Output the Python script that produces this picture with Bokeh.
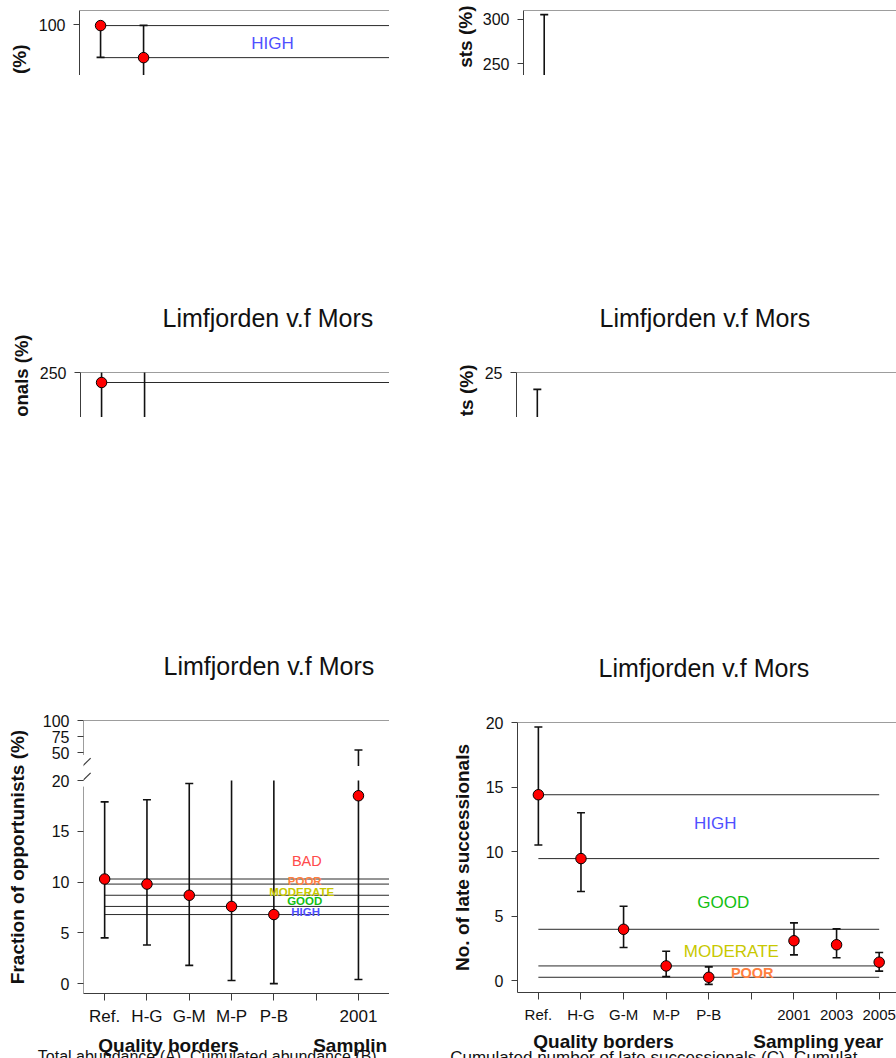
import math
from bokeh.plotting import figure
from bokeh.models import Range1d, FixedTicker, Label, Span, Arrow, Title
from bokeh.layouts import row, column, Spacer
from bokeh.core.properties import value
from bokeh.embed import file_html
from bokeh.resources import INLINE

FONT = "Liberation Sans"
TITLE = "Limfjorden v.f Mors"
CATEGORIES = ["Ref.", "H-G", "G-M", "M-P", "P-B", "", "2001", "2003", "2005"]
CAT_POS = list(range(len(CATEGORIES)))

# ---- panel A (top-left, only top strip visible)
a_x = [0, 1]
a_mean = [99.6, 87.5]
a_lo = [87.6, 72.0]
a_hi = [99.6, 99.7]
a_yticks = [80, 100]

# ---- panel B (top-right, only top strip visible)
b_x = [0]
b_mean = [190.0]
b_lo = [80.0]
b_hi = [305.5]
b_yticks = [250, 300]

# ---- panel C (middle-left, only top strip visible)
c_x = [0, 1]
c_mean = [240.0, 160.0]
c_lo = [180.0, 100.0]
c_hi = [300.0, 280.0]
c_yticks = [200, 250]

# ---- panel D (middle-right, only top strip visible)
d_x = [0]
d_mean = [14.0]
d_lo = [6.0]
d_hi = [23.2]
d_yticks = [0, 5, 10, 15, 20, 25]

# ---- panel E: fraction of opportunists (%)
e_x = [0, 1, 2, 3, 4, 6]
e_mean = [10.3, 9.8, 8.7, 7.6, 6.8, 18.5]
e_lo = [4.5, 3.8, 1.8, 0.3, 0.0, 0.4]
e_hi = [17.9, 18.1, 19.7, 24.0, 25.0, 54.0]
e_yticks_low = [0, 5, 10, 15, 20]
e_yticks_up = [50, 75, 100]
E_BREAK_LOW = 20
E_BREAK_HIGH = 29

# ---- panel F: no. of late successionals
f_x = [0, 1, 2, 3, 4, 6, 7, 8]
f_mean = [14.4, 9.45, 3.97, 1.13, 0.25, 3.08, 2.77, 1.42]
f_lo = [10.5, 6.9, 2.56, 0.3, -0.3, 1.99, 1.76, 0.73]
f_hi = [19.65, 13.0, 5.76, 2.27, 1.06, 4.47, 4.0, 2.17]
f_yticks = [0, 5, 10, 15, 20]

CAPTION_LEFT = "Total abundance (A), Cumulated abundance (B),"
CAPTION_RIGHT = "Cumulated number of late successionals (C). Cumulat"

QCOL = {"HIGH": "#5050ff", "GOOD": "#12c012", "MODERATE": "#c8c800",
        "POOR": "#ff8040", "BAD": "#ff4a4a"}

AX = "#3c3c3c"
INK = "#111111"


def no_align(p):
    try:
        p.frame_align = False
    except Exception:
        pass


def panel(width, height, ppu, left, top, y_range, bottom=0, right=0, x_axis=False, x0=-0.49):
    frame_w = width - left - right
    p = figure(width=width, height=height, output_backend="svg", toolbar_location=None,
               x_range=Range1d(x0, x0 + frame_w / ppu), y_range=Range1d(*y_range),
               x_axis_location="below" if x_axis else None,
               min_border_left=left, min_border_right=right,
               min_border_top=top, min_border_bottom=bottom)
    no_align(p)
    p.outline_line_color = None
    p.grid.visible = False
    p.background_fill_color = "white"
    p.border_fill_color = "white"
    ya = p.yaxis[0]
    ya.axis_line_color = AX
    ya.major_tick_line_color = AX
    ya.minor_tick_line_color = None
    ya.major_tick_out = 6
    ya.major_tick_in = 0
    ya.major_label_standoff = 8
    ya.major_label_text_font = FONT
    ya.major_label_text_font_size = "16px"
    ya.major_label_text_color = INK
    p.add_layout(Span(location=y_range[1], dimension="width", line_color=AX, line_width=1))
    return p


def style_xaxis(p, size):
    xa = p.xaxis[0]
    xa.ticker = FixedTicker(ticks=CAT_POS)
    xa.major_label_overrides = {i: c for i, c in zip(CAT_POS, CATEGORIES)}
    xa.axis_line_color = AX
    xa.major_tick_line_color = AX
    xa.minor_tick_line_color = None
    xa.major_tick_out = 7
    xa.major_tick_in = 0
    xa.major_label_standoff = 6
    xa.major_label_text_font = FONT
    xa.major_label_text_font_size = size
    xa.major_label_text_color = INK


def quality_lines(p, means, **kw):
    vals = means[:5]
    p.segment(x0=[CAT_POS[0]] * len(vals), x1=[CAT_POS[-1]] * len(vals), y0=vals, y1=vals,
              line_color="#2a2a2a", line_width=1, **kw)


def errorbars(p, x, lo, hi, cap_lo=True, cap_hi=None, **kw):
    p.segment(x0=x, y0=lo, x1=x, y1=hi, line_color=INK, line_width=1.6, **kw)
    if cap_lo:
        p.scatter(x=x, y=lo, marker="dash", size=8, line_color=INK, line_width=1.6, **kw)
    flags = cap_hi if cap_hi is not None else [True] * len(x)
    cx = [xx for xx, c in zip(x, flags) if c]
    cy = [yy for yy, c in zip(hi, flags) if c]
    if cx:
        p.scatter(x=cx, y=cy, marker="dash", size=8, line_color=INK, line_width=1.6, **kw)


def points(p, x, y):
    p.scatter(x=x, y=y, size=10.5, fill_color="#ff0000", line_color="#000000", line_width=1)


def set_title(p, offset):
    p.title.text = TITLE
    p.title.text_font = FONT
    p.title.text_font_size = "25px"
    p.title.text_font_style = "normal"
    p.title.text_color = INK
    p.title.align = "left"
    p.title.offset = offset
    p.title.standoff = 82


def ylabel_fragment(p, text, offset, standoff, size="19px"):
    p.add_layout(Title(text=text, align="right", offset=offset, standoff=standoff,
                       text_font=FONT, text_font_size=size, text_font_style="bold",
                       text_color=INK), "left")


def qlabel(p, x, y, name, size, bold):
    p.add_layout(Label(x=x, y=y, text=name, text_align="center", text_baseline="middle",
                       text_font=FONT, text_font_size=size,
                       text_font_style="bold" if bold else "normal", text_color=QCOL[name]))


def label_strip(main, width, height, left, ppu):
    """A strip below a panel, sharing its horizontal data scale, for the axis titles."""
    xr = main.x_range
    s = figure(width=width, height=height, output_backend="svg", toolbar_location=None,
               x_range=Range1d(xr.start - left / ppu, xr.end), y_range=Range1d(0, height),
               x_axis_location=None, y_axis_location=None,
               min_border_left=0, min_border_right=0, min_border_top=0, min_border_bottom=0)
    no_align(s)
    s.outline_line_color = None
    s.grid.visible = False
    s.background_fill_color = "white"
    s.border_fill_color = "white"
    return s


def strip_text(s, x, y, text, size, bold=False, align="center", baseline="middle"):
    s.text(x=[x], y=[y], text=[text], text_align=align, text_baseline=baseline,
           text_font=value(FONT), text_font_size=size,
           text_font_style="bold" if bold else "normal", text_color=INK)


LEFT_W, GAP_W, RIGHT_W = 389, 59, 448

# ---------------- row 1
pa = panel(LEFT_W, 75, 43.0, 79, 10, (80.75, 105.3))
pa.yaxis[0].ticker = FixedTicker(ticks=a_yticks)
quality_lines(pa, a_mean)
errorbars(pa, a_x, a_lo, a_hi, cap_hi=[False, True])
points(pa, a_x, a_mean)
qlabel(pa, 4.0, 92.8, "HIGH", "17px", False)
ylabel_fragment(pa, "(%)", 34, 12)

pb = panel(RIGHT_W, 75, 42.6, 72, 10, (236.4, 310.2))
pb.yaxis[0].ticker = FixedTicker(ticks=b_yticks)
quality_lines(pb, b_mean)
errorbars(pb, b_x, b_lo, b_hi)
points(pb, b_x, b_mean)
ylabel_fragment(pb, "sts (%)", -5, 8)

# ---------------- row 2
pc = panel(LEFT_W, 342, 43.0, 80, 297, (205, 250))
pc.yaxis[0].ticker = FixedTicker(ticks=c_yticks)
set_title(pc, 82)
quality_lines(pc, c_mean)
errorbars(pc, c_x, c_lo, c_hi)
points(pc, c_x, c_mean)
ylabel_fragment(pc, "onals (%)", -38, 10, "18.5px")

pd_ = panel(RIGHT_W, 342, 42.6, 67, 297, (20.2, 25))
pd_.yaxis[0].ticker = FixedTicker(ticks=d_yticks)
set_title(pd_, 83)
quality_lines(pd_, d_mean)
errorbars(pd_, d_x, d_lo, d_hi)
points(pd_, d_x, d_mean)
ylabel_fragment(pd_, "ts (%)", -8, 10)

# ---------------- row 3, left: broken y axis
E_LOW = (-0.974, 25.91)
E_UP = (100 - 276 / 0.648, 100)
pe = panel(LEFT_W, 611, 42.3, 83, 303, E_LOW, bottom=32, x_axis=True, x0=-0.5)
pe.extra_y_ranges = {"upper": Range1d(*E_UP)}


def up_to_low(v):
    return E_LOW[0] + (v - E_UP[0]) * (E_LOW[1] - E_LOW[0]) / (E_UP[1] - E_UP[0])


up_ticks = [round(up_to_low(v), 6) for v in e_yticks_up]
ya = pe.yaxis[0]
ya.ticker = FixedTicker(ticks=e_yticks_low + up_ticks)
ya.major_label_overrides = {t: str(v) for t, v in zip(up_ticks, e_yticks_up)}
ya.axis_line_color = None
ya.axis_label = "Fraction of opportunists (%)"
ya.axis_label_text_font = FONT
ya.axis_label_text_font_size = "19px"
ya.axis_label_text_font_style = "bold"
ya.axis_label_text_color = INK
ya.axis_label_standoff = 12
style_xaxis(pe, "17px")
set_title(pe, 80)

# axis line pieces and break marks
pe.add_layout(Arrow(end=None, x_start=-0.5, y_start=E_UP[1], x_end=-0.5, y_end=46.2,
                    line_color=AX, line_width=1, y_range_name="upper"))
pe.add_layout(Arrow(end=None, x_start=-0.5, y_start=19.4, x_end=-0.5, y_end=E_LOW[0],
                    line_color=AX, line_width=1))
pe.add_layout(Arrow(end=None, x_start=-0.686, y_start=20.75, x_end=-0.331, y_end=22.21,
                    line_color=AX, line_width=1.2))
pe.add_layout(Arrow(end=None, x_start=-0.686, y_start=19.29, x_end=-0.331, y_end=20.75,
                    line_color=AX, line_width=1.2))

quality_lines(pe, e_mean)
low_hi = [min(h, E_BREAK_LOW) for h in e_hi]
errorbars(pe, e_x, e_lo, low_hi, cap_hi=[h <= E_BREAK_LOW for h in e_hi])
up_idx = [i for i, h in enumerate(e_hi) if h > E_BREAK_HIGH]
errorbars(pe, [e_x[i] for i in up_idx], [max(e_lo[i], E_BREAK_HIGH) for i in up_idx],
          [e_hi[i] for i in up_idx], cap_lo=False, y_range_name="upper")
points(pe, e_x, e_mean)
qlabel(pe, 4.78, 12.07, "BAD", "14.5px", False)
qlabel(pe, 4.73, 10.06, "POOR", "11.5px", True)
qlabel(pe, 4.66, 9.03, "MODERATE", "11.5px", True)
qlabel(pe, 4.73, 8.18, "GOOD", "11.5px", True)
qlabel(pe, 4.75, 7.04, "HIGH", "11.5px", True)

se = label_strip(pe, LEFT_W, 30, 83, 42.3)
strip_text(se, -1.58, 11, CAPTION_LEFT, "16px", baseline="top", align="left")
strip_text(se, 1.51, 12.7, "Quality borders", "19px", bold=True)
strip_text(se, 4.93, 12.7, "Samplin", "19px", bold=True, align="left")

# ---------------- row 3, right
pf = panel(RIGHT_W, 611, 42.6, 69, 305, (-0.93, 20.0), bottom=36, x_axis=True)
pf.yaxis[0].ticker = FixedTicker(ticks=f_yticks)
ya = pf.yaxis[0]
ya.axis_label = "No. of late successionals"
ya.axis_label_text_font = FONT
ya.axis_label_text_font_size = "19px"
ya.axis_label_text_font_style = "bold"
ya.axis_label_text_color = INK
ya.axis_label_standoff = 10
style_xaxis(pf, "15px")
set_title(pf, 81)
quality_lines(pf, f_mean)
errorbars(pf, f_x, f_lo, f_hi)
points(pf, f_x, f_mean)
qlabel(pf, 4.15, 12.2, "HIGH", "17px", False)
qlabel(pf, 4.34, 6.05, "GOOD", "17px", False)
qlabel(pf, 4.53, 2.25, "MODERATE", "17px", False)
qlabel(pf, 5.02, 0.62, "POOR", "14.5px", True)

sf = label_strip(pf, RIGHT_W, 30, 69, 42.6)
strip_text(sf, -2.07, 11, CAPTION_RIGHT, "17px", baseline="top", align="left")
strip_text(sf, 1.53, 16.7, "Quality borders", "19px", bold=True)
strip_text(sf, 6.57, 16.7, "Sampling year", "19px", bold=True)

layout = column(
    row(pa, Spacer(width=GAP_W, height=75), pb),
    row(pc, Spacer(width=GAP_W, height=342), pd_),
    row(column(pe, se), Spacer(width=GAP_W, height=641), column(pf, sf)),
)

open("out.html", "w").write(file_html(layout, INLINE))
